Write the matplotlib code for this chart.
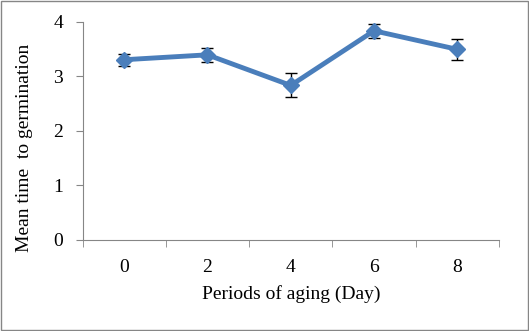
import matplotlib.pyplot as plt

days = ["0", "2", "4", "6", "8"]
mtg = [3.30, 3.39, 2.83, 3.83, 3.49]
err = [0.11, 0.13, 0.22, 0.13, 0.19]

plt.rcParams["font.family"] = "Liberation Serif"

fig = plt.figure(figsize=(5.29, 3.31), dpi=100)
ax = fig.add_axes([82.5 / 529, 91 / 331, (499 - 82.5) / 529, (240 - 21.5) / 331])

x = list(range(len(days)))
ax.errorbar(x, mtg, yerr=err, color="#4A7EBB", lw=3.5, marker="D", ms=8,
            ecolor="black", elinewidth=1, capsize=4, capthick=1, zorder=3)

ax.set_xlim(-0.5, len(days) - 0.5)
ax.set_ylim(0, 4)
ax.set_yticks([0, 1, 2, 3, 4])
ax.set_xticks(x)
ax.set_xticklabels(days)
ax.set_xticks([i + 0.5 for i in range(-1, len(days))], minor=True)
ax.tick_params(axis="x", which="major", length=0, pad=14, labelsize=14)
ax.tick_params(axis="x", which="minor", length=5, color="#868686")
ax.tick_params(axis="y", length=5, color="#868686", labelsize=14, pad=9)

for s in ["top", "right"]:
    ax.spines[s].set_visible(False)
for s in ["left", "bottom"]:
    ax.spines[s].set_color("#868686")

ax.set_xlabel("Periods of aging (Day)", fontsize=14, labelpad=6)
ax.set_ylabel("Mean time  to germination", fontsize=14)
ax.yaxis.set_label_coords(-0.119, 0.42)

fig.patches.append(plt.Rectangle((0.002, 0.003), 0.996, 0.994, transform=fig.transFigure,
                                 fill=False, edgecolor="#868686", lw=1))

plt.savefig("out.png", dpi=100)
